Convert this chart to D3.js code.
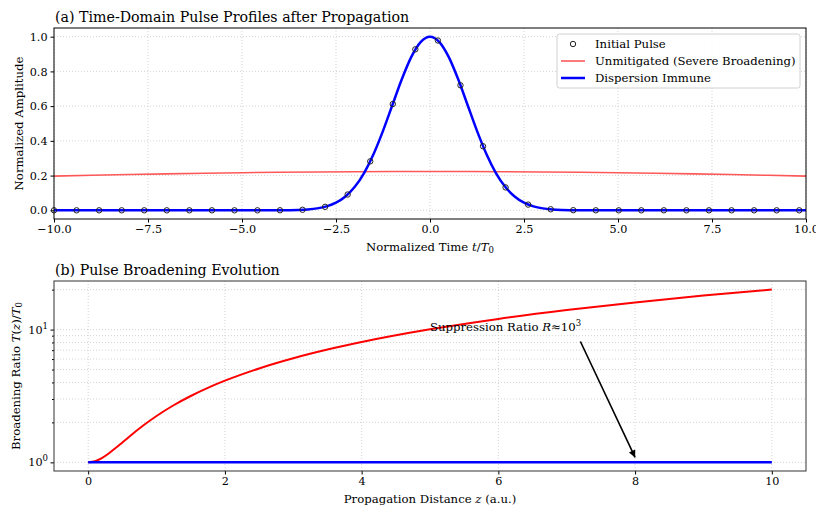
<!DOCTYPE html>
<html><head><meta charset="utf-8">
<script src="https://cdn.jsdelivr.net/npm/d3@7"></script>
<style>
body{margin:0;background:#fff;}
svg text{font-family:"DejaVu Serif",serif;fill:#000;}
</style></head>
<body><svg id="c" width="816" height="506"></svg>
<script>
// ---------- data ----------
const pulseT   = [-10,-9.4,-8.8,-8.2,-7.6,-7.0,-6.4,-5.8,-5.2,-4.59,-3.99,-3.39,-2.79,-2.19,-1.59,-0.99,-0.39,0.21,0.81,1.41,2.01,2.61,3.21,3.81,4.41,5.02,5.62,6.22,6.82,7.42,8.02,8.62,9.22,9.82];
const pulseAmp = [0,0,0,0,0,0,0,0,0,0,0.0003,0.0032,0.020,0.091,0.282,0.612,0.927,0.978,0.720,0.369,0.132,0.033,0.006,0.0007,0,0,0,0,0,0,0,0,0,0];
const immuneT   = [-10,-6,-5,-4.5,-4,-3.75,-3.5,-3.25,-3,-2.75,-2.5,-2.25,-2,-1.75,-1.5,-1.25,-1,-0.75,-0.5,-0.25,0,0.25,0.5,0.75,1,1.25,1.5,1.75,2,2.25,2.5,2.75,3,3.25,3.5,3.75,4,4.5,5,6,10];
const immuneAmp = [0,0,0,0,0.0003,0.0009,0.0022,0.0051,0.0111,0.0228,0.0439,0.0796,0.1353,0.2163,0.3247,0.4578,0.6065,0.7548,0.8825,0.9692,1,0.9692,0.8825,0.7548,0.6065,0.4578,0.3247,0.2163,0.1353,0.0796,0.0439,0.0228,0.0111,0.0051,0.0022,0.0009,0.0003,0,0,0,0];
const unmitT   = [-10,-9,-8,-7,-6,-5,-4,-3,-2,-1,0,1,2,3,4,5,6,7,8,9,10];
const unmitAmp = [0.1967,0.2016,0.2061,0.2101,0.2137,0.2167,0.2192,0.2211,0.2225,0.2233,0.2236,0.2233,0.2225,0.2211,0.2192,0.2167,0.2137,0.2101,0.2061,0.2016,0.1967];
const distZ      = [0,0.1,0.2,0.3,0.4,0.5,0.6,0.8,1,1.25,1.5,1.75,2,2.5,3,3.5,4,5,6,7,8,9,10];
const ratioUnmit = [1,1.02,1.077,1.166,1.281,1.414,1.562,1.887,2.236,2.693,3.162,3.640,4.123,5.099,6.083,7.071,8.062,10.05,12.04,14.04,16.03,18.03,20.02];
const ratioImmune= [1,1,1,1,1,1,1,1,1,1,1,1,1,1,1,1,1,1,1,1,1,1,1];
const timeTicks = [-10,-7.5,-5,-2.5,0,2.5,5,7.5,10];
const ampTicks  = [0,0.2,0.4,0.6,0.8,1.0];
const distTicks = [0,2,4,6,8,10];
const ratioMajor = [1,10];
const ratioMinor = [2,3,4,5,6,7,8,9,20];
const legendLabels = ["Initial Pulse","Unmitigated (Severe Broadening)","Dispersion Immune"];

// ---------- drawing ----------
const svg = d3.select("#c");
const FT = 11.2, FL = 11.7, FTITLE = 14.2;
const fmtMinus = s => s.replace("-", "\u2212");
const gridStyle = sel => sel.attr("stroke","#c8c8c8").attr("stroke-width",0.8).attr("stroke-dasharray","1,2").attr("fill","none");

// ---- Panel A ----
const A = {l:54,t:28,w:752,h:191};
const xa = d3.scaleLinear().domain([-10,10]).range([A.l,A.l+A.w]);
const ya = d3.scaleLinear().domain([-0.05,1.05]).range([A.t+A.h,A.t]);
const ga = svg.append("g");
ga.selectAll(".gx").data(timeTicks).join("line").call(gridStyle)
  .attr("x1",d=>xa(d)).attr("x2",d=>xa(d)).attr("y1",A.t).attr("y2",A.t+A.h);
ga.selectAll(".gy").data(ampTicks).join("line").call(gridStyle)
  .attr("x1",A.l).attr("x2",A.l+A.w).attr("y1",d=>ya(d)).attr("y2",d=>ya(d));

const lineA = d3.line().x(d=>xa(d[0])).y(d=>ya(d[1]));
ga.append("path").datum(unmitT.map((t,i)=>[t,unmitAmp[i]])).attr("d",lineA)
  .attr("fill","none").attr("stroke","#ff3b3b").attr("stroke-opacity",0.85).attr("stroke-width",1.6);
ga.append("path").datum(immuneT.map((t,i)=>[t,immuneAmp[i]])).attr("d",d3.line().curve(d3.curveMonotoneX).x(d=>xa(d[0])).y(d=>ya(d[1])))
  .attr("fill","none").attr("stroke","#0000ff").attr("stroke-width",2.5);
ga.selectAll(".mk").data(pulseT.map((t,i)=>[t,pulseAmp[i]])).join("circle")
  .attr("cx",d=>xa(d[0])).attr("cy",d=>ya(d[1])).attr("r",2.7)
  .attr("fill","none").attr("stroke","#222").attr("stroke-width",1);

const axA = ga.append("g").attr("transform",`translate(0,${A.t+A.h})`)
  .call(d3.axisBottom(xa).tickValues(timeTicks).tickFormat(d=>fmtMinus(d3.format(".1f")(d))).tickSizeOuter(0).tickSize(3.5));
const ayA = ga.append("g").attr("transform",`translate(${A.l},0)`)
  .call(d3.axisLeft(ya).tickValues(ampTicks).tickFormat(d3.format(".1f")).tickSizeOuter(0).tickSize(3.5));
[axA,ayA].forEach(a=>{a.select(".domain").remove();a.selectAll("text").attr("font-size",FT).attr("font-family","DejaVu Serif");a.selectAll("line").attr("stroke","#000");});
ga.append("rect").attr("x",A.l).attr("y",A.t).attr("width",A.w).attr("height",A.h)
  .attr("fill","none").attr("stroke","#000").attr("stroke-width",1);
ga.append("text").attr("x",A.l+1).attr("y",A.t-6).attr("font-size",FTITLE).text("(a) Time-Domain Pulse Profiles after Propagation");
const xlabA = ga.append("text").attr("x",A.l+A.w/2).attr("y",251).attr("text-anchor","middle").attr("font-size",FL);
xlabA.append("tspan").text("Normalized Time ");
xlabA.append("tspan").attr("font-style","italic").text("t");
xlabA.append("tspan").text("/");
xlabA.append("tspan").attr("font-style","italic").text("T");
xlabA.append("tspan").attr("font-size",8.5).attr("dy",2).text("0");
ga.append("text").attr("transform",`translate(23,${A.t+A.h/2}) rotate(-90)`).attr("text-anchor","middle").attr("font-size",FL).text("Normalized Amplitude");

// legend
const lg = ga.append("g");
lg.append("rect").attr("x",557).attr("y",34).attr("width",243).attr("height",54).attr("rx",2.5)
  .attr("fill","#fff").attr("fill-opacity",0.85).attr("stroke","#d0d0d0").attr("stroke-width",1);
const legY=[44,61,78];
lg.append("circle").attr("cx",573).attr("cy",legY[0]).attr("r",2.7).attr("fill","none").attr("stroke","#222");
lg.append("line").attr("x1",561).attr("x2",585).attr("y1",legY[1]).attr("y2",legY[1]).attr("stroke","#ff3b3b").attr("stroke-opacity",0.85).attr("stroke-width",1.6);
lg.append("line").attr("x1",561).attr("x2",585).attr("y1",legY[2]).attr("y2",legY[2]).attr("stroke","#0000ff").attr("stroke-width",2.5);
lg.selectAll(".lt").data(legendLabels).join("text").attr("x",595).attr("y",(d,i)=>legY[i]+4).attr("font-size",FL).text(d=>d);

// ---- Panel B ----
const B = {l:54,t:281,w:752,h:190};
const xb = d3.scaleLinear().domain([-0.5,10.5]).range([B.l,B.l+B.w]);
const yb = d3.scaleLog().domain([Math.pow(10,-0.065),Math.pow(10,1.366)]).range([B.t+B.h,B.t]);
const gb = svg.append("g");
gb.selectAll(".gx").data(distTicks).join("line").call(gridStyle)
  .attr("x1",d=>xb(d)).attr("x2",d=>xb(d)).attr("y1",B.t).attr("y2",B.t+B.h);
gb.selectAll(".gy").data(ratioMajor.concat(ratioMinor)).join("line").call(gridStyle)
  .attr("x1",B.l).attr("x2",B.l+B.w).attr("y1",d=>yb(d)).attr("y2",d=>yb(d));
const lineB = d3.line().curve(d3.curveMonotoneX).x(d=>xb(d[0])).y(d=>yb(d[1]));
gb.append("path").datum(distZ.map((z,i)=>[z,ratioUnmit[i]])).attr("d",lineB)
  .attr("fill","none").attr("stroke","#ff0000").attr("stroke-width",2);
gb.append("path").datum(distZ.map((z,i)=>[z,ratioImmune[i]])).attr("d",lineB)
  .attr("fill","none").attr("stroke","#0000ff").attr("stroke-width",2.5);

const axB = gb.append("g").attr("transform",`translate(0,${B.t+B.h})`)
  .call(d3.axisBottom(xb).tickValues(distTicks).tickFormat(d3.format("d")).tickSizeOuter(0).tickSize(3.5));
const ayB = gb.append("g").attr("transform",`translate(${B.l},0)`)
  .call(d3.axisLeft(yb).tickValues(ratioMajor).tickFormat(()=>"").tickSizeOuter(0).tickSize(3.5));
const ayBm = gb.append("g").attr("transform",`translate(${B.l},0)`)
  .call(d3.axisLeft(yb).tickValues(ratioMinor).tickFormat(()=>"").tickSizeOuter(0).tickSize(2));
[axB,ayB,ayBm].forEach(a=>{a.select(".domain").remove();a.selectAll("text").attr("font-size",FT).attr("font-family","DejaVu Serif");a.selectAll("line").attr("stroke","#000");});
ratioMajor.forEach(v=>{
  const t = gb.append("text").attr("x",B.l-6).attr("y",yb(v)+4).attr("text-anchor","end").attr("font-size",FT);
  t.append("tspan").text("10");
  t.append("tspan").attr("font-size",8.5).attr("dy",-5).text(String(Math.round(Math.log10(v))));
});
gb.append("rect").attr("x",B.l).attr("y",B.t).attr("width",B.w).attr("height",B.h)
  .attr("fill","none").attr("stroke","#333").attr("stroke-width",1);
gb.append("text").attr("x",B.l+1).attr("y",B.t-6).attr("font-size",FTITLE).text("(b) Pulse Broadening Evolution");
const xlabB = gb.append("text").attr("x",B.l+B.w/2).attr("y",503).attr("text-anchor","middle").attr("font-size",FL);
xlabB.append("tspan").text("Propagation Distance ");
xlabB.append("tspan").attr("font-style","italic").text("z");
xlabB.append("tspan").text(" (a.u.)");
const ylabB = gb.append("text").attr("transform",`translate(20,${B.t+B.h/2}) rotate(-90)`).attr("text-anchor","middle").attr("font-size",FL);
ylabB.append("tspan").text("Broadening Ratio ");
ylabB.append("tspan").attr("font-style","italic").text("T");
ylabB.append("tspan").text("(");
ylabB.append("tspan").attr("font-style","italic").text("z");
ylabB.append("tspan").text(")/");
ylabB.append("tspan").attr("font-style","italic").text("T");
ylabB.append("tspan").attr("font-size",8.5).attr("dy",2).text("0");

// annotation
const ann = gb.append("text").attr("x",xb(5)).attr("y",yb(10)+1).attr("font-size",FL);
ann.append("tspan").text("Suppression Ratio ");
ann.append("tspan").attr("font-style","italic").text("R");
ann.append("tspan").text("\u2248");
ann.append("tspan").text("10");
ann.append("tspan").attr("font-size",8.5).attr("dy",-5).text("3");
svg.append("defs").append("marker").attr("id","ah").attr("viewBox","0 0 10 10").attr("refX",10).attr("refY",5)
  .attr("markerWidth",10).attr("markerHeight",7).attr("markerUnits","userSpaceOnUse").attr("orient","auto")
  .append("path").attr("d","M0,0 L10,5 L0,10 z").attr("fill","#000");
gb.append("line").attr("x1",xb(7.2)).attr("y1",yb(8.13)).attr("x2",xb(8)).attr("y2",yb(1.09))
  .attr("stroke","#000").attr("stroke-width",1.6).attr("marker-end","url(#ah)");
</script></body></html>
